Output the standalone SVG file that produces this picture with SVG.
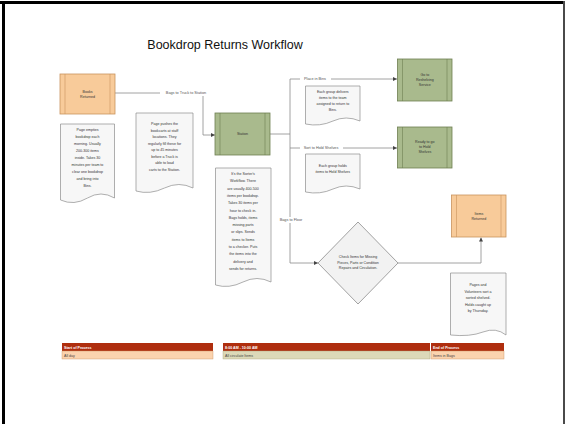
<svg xmlns="http://www.w3.org/2000/svg" width="565" height="424" viewBox="0 0 565 424">
<defs>
<style>
.t{font-family:"Liberation Sans",Arial,sans-serif;fill:#333;text-anchor:middle;font-size:3.6px}
.lbl{font-family:"Liberation Sans",Arial,sans-serif;fill:#555;text-anchor:middle;font-size:3.8px}
.orange{fill:#F8CB9A;stroke:#C9935E;stroke-width:0.8}
.green{fill:#A9BA8D;stroke:#6E7F52;stroke-width:0.8}
.bar{stroke-width:0.6;fill:none}
.ob{stroke:#C9935E}
.gb{stroke:#6E7F52}
.doc{fill:#F7F7F7;stroke:#8C8C8C;stroke-width:0.7}
.dia{fill:#F2F2F2;stroke:#8C8C8C;stroke-width:0.8}
.ln{fill:none;stroke:#8A8A8A;stroke-width:0.8}
.hd{fill:#AF2E0E}
.ht{font-family:"Liberation Sans",Arial,sans-serif;fill:#fff;font-size:3.6px;font-weight:bold}
.rt{font-family:"Liberation Sans",Arial,sans-serif;fill:#444;font-size:3.6px}
</style>
<marker id="ar" viewBox="0 0 6 6" refX="6" refY="3" markerWidth="5" markerHeight="5" orient="auto">
<path d="M0,0 L6,3 L0,6 z" fill="#444"/>
</marker>
</defs>
<rect width="565" height="424" fill="#fff"/>
<rect x="0" y="1" width="565" height="3" fill="#000"/>
<rect x="2" y="1" width="3" height="423" fill="#000"/>
<rect x="563" y="1" width="2" height="423" fill="#4a4a4a"/>

<text x="225" y="49" font-family="Liberation Sans, Arial, sans-serif" font-size="12.5" fill="#111" text-anchor="middle">Bookdrop Returns Workflow</text>

<g id="connectors">
<path class="ln" d="M115,93 H203 V135 H215" marker-end="url(#ar)"/>
<rect x="160" y="90" width="52" height="6" fill="#fff"/>
<text class="lbl" x="186" y="94.3">Bags to Truck to Station</text>
<path class="ln" d="M270,134 H290"/>
<path class="ln" d="M290,79 V263"/>
<path class="ln" d="M290,79 H397" marker-end="url(#ar)"/>
<path class="ln" d="M290,148 H397" marker-end="url(#ar)"/>
<path class="ln" d="M290,263 H318" marker-end="url(#ar)"/>
<path class="ln" d="M398,263 H481 V237.5" marker-end="url(#ar)"/>
<rect x="300" y="76" width="31" height="6" fill="#fff"/>
<text class="lbl" x="315" y="80.3">Place in Bins</text>
<rect x="300" y="145" width="43" height="6" fill="#fff"/>
<text class="lbl" x="321" y="149.3">Sort to Hold Shelves</text>
<rect x="273" y="217" width="36" height="6" fill="#fff"/>
<text class="lbl" x="291" y="221.3">Bags to Floor</text>
</g>

<g id="books-returned">
<rect class="orange" x="60" y="74" width="55" height="40"/>
<path class="bar ob" d="M65,74 V114 M110,74 V114"/>
<text class="t" x="87.5" y="92.5">Books</text>
<text class="t" x="87.5" y="97.5">Returned</text>
</g>

<g id="note-1">
<path class="doc" d="M60.5,124 H114.5 V198 Q101,190 87.5,198 T60.5,200 Z"/>
<text class="t" x="87.5" y="131">Page empties</text>
<text class="t" x="87.5" y="138">bookdrop each</text>
<text class="t" x="87.5" y="145">morning. Usually</text>
<text class="t" x="87.5" y="152">200-300 items</text>
<text class="t" x="87.5" y="159">inside. Takes 30</text>
<text class="t" x="87.5" y="166">minutes per team to</text>
<text class="t" x="87.5" y="173">clear one bookdrop</text>
<text class="t" x="87.5" y="180">and bring into</text>
<text class="t" x="87.5" y="187">Bins.</text>
</g>

<g id="note-2">
<path class="doc" d="M136,113 H193 V188 Q179,181 164.5,188 T136,191 Z"/>
<text class="t" x="164.5" y="125">Page pushes the</text>
<text class="t" x="164.5" y="131.5">bookcarts at staff</text>
<text class="t" x="164.5" y="138">locations. They</text>
<text class="t" x="164.5" y="144.5">regularly fill these for</text>
<text class="t" x="164.5" y="151">up to 45 minutes</text>
<text class="t" x="164.5" y="157.5">before a Truck is</text>
<text class="t" x="164.5" y="164">able to load</text>
<text class="t" x="164.5" y="170.5">carts to the Station.</text>
</g>

<g id="station">
<rect class="green" x="215" y="113" width="55" height="42"/>
<path class="bar gb" d="M220,113 V155 M265,113 V155"/>
<text class="t" x="242.5" y="135">Station</text>
</g>

<g id="note-3">
<path class="doc" d="M215.5,168 H271 V282 Q257,275 243,282 T215.5,285 Z"/>
<text class="t" x="243" y="175">It's the Sorter's</text>
<text class="t" x="243" y="182.3">Workflow. There</text>
<text class="t" x="243" y="189.6">are usually 400-500</text>
<text class="t" x="243" y="196.9">items per bookdrop.</text>
<text class="t" x="243" y="204.2">Takes 30 items per</text>
<text class="t" x="243" y="211.5">hour to check in.</text>
<text class="t" x="243" y="218.8">Bags holds, items</text>
<text class="t" x="243" y="226.1">missing parts</text>
<text class="t" x="243" y="233.4">or slips. Sends</text>
<text class="t" x="243" y="240.7">items to Items</text>
<text class="t" x="243" y="248">to a checker. Puts</text>
<text class="t" x="243" y="255.3">the items into the</text>
<text class="t" x="243" y="262.6">delivery and</text>
<text class="t" x="243" y="269.9">sends for returns.</text>
</g>

<g id="reshelving">
<rect class="green" x="397.5" y="59" width="54.5" height="42"/>
<path class="bar gb" d="M402.5,59 V101 M447,59 V101"/>
<text class="t" x="424.8" y="75.5">Go to</text>
<text class="t" x="424.8" y="80.5">Reshelving</text>
<text class="t" x="424.8" y="85.5">Service</text>
</g>

<g id="note-4">
<path class="doc" d="M305.5,86 H360 V121 Q346,115 333,121 T305.5,124 Z"/>
<text class="t" x="332.8" y="93">Each group delivers</text>
<text class="t" x="332.8" y="99">items to the team</text>
<text class="t" x="332.8" y="105">assigned to return to</text>
<text class="t" x="332.8" y="111">Bins.</text>
</g>

<g id="hold-shelves">
<rect class="green" x="397.5" y="127" width="54.5" height="41"/>
<path class="bar gb" d="M402.5,127 V168 M447,127 V168"/>
<text class="t" x="424.8" y="143">Ready to go</text>
<text class="t" x="424.8" y="148">to Hold</text>
<text class="t" x="424.8" y="153">Shelves</text>
</g>

<g id="note-5">
<path class="doc" d="M305.5,154 H360 V189 Q346,183 333,189 T305.5,192 Z"/>
<text class="t" x="332.8" y="167">Each group holds</text>
<text class="t" x="332.8" y="173">items to Hold Shelves</text>
</g>

<g id="check-items">
<path class="dia" d="M358,222 L398,263 L358,304 L318,263 Z"/>
<text class="t" x="358" y="258">Check Items for Missing</text>
<text class="t" x="358" y="263.5">Pieces, Parts or Condition</text>
<text class="t" x="358" y="269">Repairs and Circulation.</text>
</g>

<g id="items-returned">
<rect class="orange" x="451.5" y="195" width="54.5" height="42"/>
<path class="bar ob" d="M456.5,195 V237 M501,195 V237"/>
<text class="t" x="478.8" y="214.5">Items</text>
<text class="t" x="478.8" y="219.5">Returned</text>
</g>

<g id="note-6">
<path class="doc" d="M450.5,273 H506 V335 Q496,327 483,332 T450.5,335 Z"/>
<text class="t" x="478" y="286">Pages and</text>
<text class="t" x="478" y="292.5">Volunteers sort a</text>
<text class="t" x="478" y="299">sorted shelved.</text>
<text class="t" x="478" y="305.5">Holds caught up</text>
<text class="t" x="478" y="312">by Thursday.</text>
</g>

<g id="timeline">
<rect class="hd" x="62" y="343" width="151" height="8"/>
<rect x="62" y="351" width="151" height="8" fill="#FBD3AE" stroke="#C9935E" stroke-width="0.4"/>
<text class="ht" x="64" y="349">Start of Process</text>
<text class="rt" x="64" y="357">All day</text>
<rect class="hd" x="223" y="343" width="207" height="8"/>
<rect x="223" y="351" width="207" height="8" fill="#DCD9B8" stroke="#A9A47A" stroke-width="0.4"/>
<text class="ht" x="225" y="349">8:00 AM - 10:00 AM</text>
<text class="rt" x="225" y="357">All circulate Items</text>
<rect class="hd" x="431" y="343" width="73" height="8"/>
<rect x="431" y="351" width="73" height="8" fill="#FBD3AE" stroke="#C9935E" stroke-width="0.4"/>
<text class="ht" x="433" y="349">End of Process</text>
<text class="rt" x="433" y="357">Items in Bags</text>
</g>
</svg>
